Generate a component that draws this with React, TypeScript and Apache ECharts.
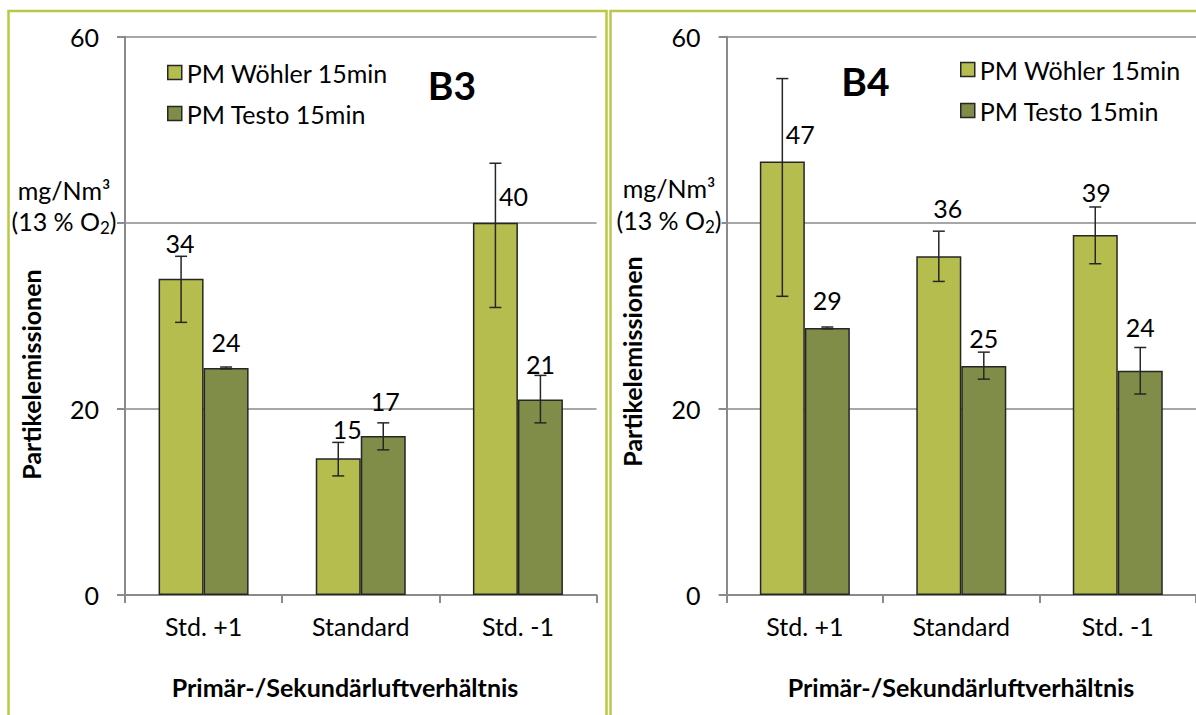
import React, { useEffect, useRef } from "react";
import * as echarts from "echarts";

// Categories: primary/secondary air ratio settings
const categories = ["Std. +1", "Standard", "Std. -1"];
const yTicks = [0, 20, 40, 60];

// B3 – particle emissions, mg/Nm³ at 13 % O2
const b3Woehler = [34.0, 14.7, 40.0];
const b3WoehlerLow = [29.3, 12.8, 30.9];
const b3WoehlerHigh = [36.4, 16.4, 46.4];
const b3Testo = [24.4, 17.1, 21.0];
const b3TestoLow = [24.3, 15.6, 18.5];
const b3TestoHigh = [24.5, 18.5, 23.6];

// B4 – particle emissions, mg/Nm³ at 13 % O2
const b4Woehler = [46.6, 36.4, 38.7];
const b4WoehlerLow = [32.1, 33.7, 35.6];
const b4WoehlerHigh = [55.5, 39.1, 41.7];
const b4Testo = [28.7, 24.6, 24.1];
const b4TestoLow = [28.6, 23.2, 21.6];
const b4TestoHigh = [28.8, 26.1, 26.6];

const seriesNames = ["PM Wöhler 15min", "PM Testo 15min"];

const FONT = "Lato, 'Open Sans', sans-serif";
const FS = 25;
const WOEHLER = "#b5bd4f";
const TESTO = "#7f8d48";
const EDGE = "#262626";
const AXIS = "#8a8a8a";
const FRAME = "#b9c846";
const BAR_W = 45;

// value-label nudges (label centre relative to bar centre / bar top)
const b3WoehlerLabelShift = [[-1, -36], [9, -29], [18, -27]];
const b3TestoLabelShift = [[0, -26], [2, -35], [0, -36]];
const b4WoehlerLabelShift = [[18, -27], [9, -48], [1, -43]];
const b4TestoLabelShift = [[0, -28], [0, -28], [0, -44]];

function barSeries(
  name: string,
  color: string,
  values: number[],
  shifts: number[][],
  axis: number
) {
  return {
    type: "bar",
    name,
    xAxisIndex: axis,
    yAxisIndex: axis,
    barWidth: BAR_W,
    barGap: "0%",
    itemStyle: { color, borderColor: EDGE, borderWidth: 1.5 },
    label: {
      show: true,
      position: "top",
      distance: 0,
      fontFamily: FONT,
      fontSize: FS,
      lineHeight: 24,
      color: "#000",
      formatter: (p: any) => String(Math.round(p.value)),
    },
    data: values.map((v, i) => ({
      value: v,
      label: { offset: [shifts[i][0], shifts[i][1] + 12] },
    })),
    z: 2,
  };
}

function errorSeries(
  name: string,
  low: number[],
  high: number[],
  shift: number,
  axis: number
) {
  return {
    type: "custom",
    name,
    xAxisIndex: axis,
    yAxisIndex: axis,
    encode: { x: 0, y: [1, 2] },
    data: low.map((lo, i) => [i, lo, high[i]]),
    z: 5,
    renderItem: (params: any, api: any) => {
      const i = api.value(0);
      const pLo = api.coord([i, api.value(1)]);
      const pHi = api.coord([i, api.value(2)]);
      const cx = pLo[0] + shift;
      const cap = 6;
      const style = { stroke: EDGE, lineWidth: 1.5 };
      return {
        type: "group",
        children: [
          { type: "line", shape: { x1: cx, y1: pHi[1], x2: cx, y2: pLo[1] }, style },
          { type: "line", shape: { x1: cx - cap, y1: pHi[1], x2: cx + cap, y2: pHi[1] }, style },
          { type: "line", shape: { x1: cx - cap, y1: pLo[1], x2: cx + cap, y2: pLo[1] }, style },
        ],
      };
    },
  };
}

function xAxis(grid: number) {
  return {
    type: "category",
    gridIndex: grid,
    data: categories,
    axisLine: { show: true, lineStyle: { color: AXIS, width: 2 } },
    axisTick: { show: true, length: 8, lineStyle: { color: AXIS, width: 2 } },
    axisLabel: { fontFamily: FONT, fontSize: FS, color: "#000", margin: 18 },
  };
}

function yAxis(grid: number) {
  return {
    type: "value",
    gridIndex: grid,
    min: yTicks[0],
    max: yTicks[yTicks.length - 1],
    interval: yTicks[1] - yTicks[0],
    axisLine: { show: true, lineStyle: { color: AXIS, width: 2 } },
    axisTick: { show: true, length: 8, lineStyle: { color: AXIS, width: 2 } },
    splitLine: { show: true, lineStyle: { color: AXIS, width: 1.5 } },
    axisLabel: {
      fontFamily: FONT,
      fontSize: FS,
      color: "#000",
      margin: 26,
      // the 40 position carries the unit label instead
      formatter: (v: number) => (v === 40 ? "" : String(v)),
    },
  };
}

function legend(left: number, top: number) {
  return {
    data: seriesNames,
    orient: "vertical",
    left,
    top,
    icon: "rect",
    itemWidth: 14,
    itemHeight: 14,
    itemGap: 16,
    selectedMode: false,
    itemStyle: { borderColor: EDGE, borderWidth: 1.5 },
    textStyle: { fontFamily: FONT, fontSize: FS, lineHeight: 24, color: "#000" },
  };
}

function txt(
  x: number,
  y: number,
  text: string,
  size: number,
  bold = false,
  rotation = 0
) {
  return {
    type: "text",
    x,
    y,
    rotation,
    style: {
      text,
      fontFamily: FONT,
      fontSize: size,
      fontWeight: bold ? "bold" : "normal",
      fill: "#000",
      align: "center",
      verticalAlign: "middle",
    },
    z: 10,
  };
}

function unitLabel(x: number, y1: number, y2: number) {
  return [
    txt(x, y1, "mg/Nm³", FS),
    {
      type: "text",
      x,
      y: y2,
      style: {
        text: "(13 % O{s|2})",
        fontFamily: FONT,
        fontSize: FS,
        lineHeight: 30,
        fill: "#000",
        align: "center",
        verticalAlign: "middle",
        backgroundColor: "#fff",
        rich: {
          s: {
            fontFamily: FONT,
            fontSize: 17,
            lineHeight: 16,
            verticalAlign: "bottom",
            fill: "#000",
          },
        },
      },
      z: 10,
    },
  ];
}

export default function App() {
  const ref = useRef<HTMLDivElement>(null);

  useEffect(() => {
    if (!ref.current) return;
    const chart = echarts.init(ref.current, undefined, { renderer: "svg" });

    chart.setOption({
      animation: false,
      backgroundColor: "#fff",
      grid: [
        { left: 125, top: 36.7, width: 471.5, height: 558.3 },
        { left: 726.6, top: 36.7, width: 473.5, height: 558.3 },
      ],
      xAxis: [xAxis(0), xAxis(1)],
      yAxis: [yAxis(0), yAxis(1)],
      legend: [legend(162, 55), legend(955, 52)],
      series: [
        barSeries(seriesNames[0], WOEHLER, b3Woehler, b3WoehlerLabelShift, 0),
        barSeries(seriesNames[1], TESTO, b3Testo, b3TestoLabelShift, 0),
        errorSeries("err-b3-w", b3WoehlerLow, b3WoehlerHigh, -BAR_W / 2, 0),
        errorSeries("err-b3-t", b3TestoLow, b3TestoHigh, BAR_W / 2, 0),
        barSeries(seriesNames[0], WOEHLER, b4Woehler, b4WoehlerLabelShift, 1),
        barSeries(seriesNames[1], TESTO, b4Testo, b4TestoLabelShift, 1),
        errorSeries("err-b4-w", b4WoehlerLow, b4WoehlerHigh, -BAR_W / 2, 1),
        errorSeries("err-b4-t", b4TestoLow, b4TestoHigh, BAR_W / 2, 1),
      ],
      graphic: [
        // panel frames
        {
          type: "rect",
          shape: { x: 8.5, y: 11, width: 598, height: 740 },
          style: { fill: "none", stroke: FRAME, lineWidth: 2.5 },
          z: 0,
        },
        {
          type: "rect",
          shape: { x: 610.5, y: 11, width: 620, height: 740 },
          style: { fill: "none", stroke: FRAME, lineWidth: 2.5 },
          z: 0,
        },
        txt(452, 85, "B3", 39, true),
        txt(865.5, 81, "B4", 39, true),
        txt(31, 374.5, "Partikelemissionen", FS, true, Math.PI / 2),
        txt(631.5, 361.5, "Partikelemissionen", FS, true, Math.PI / 2),
        txt(345, 687, "Primär-/Sekundärluftverhältnis", FS, true),
        txt(961, 687, "Primär-/Sekundärluftverhältnis", FS, true),
        ...unitLabel(64, 190, 221),
        ...unitLabel(669, 188, 220),
      ],
    });

    return () => chart.dispose();
  }, []);

  return (
    <div
      ref={ref}
      style={{ position: "absolute", left: 0, top: 0, width: 1196, height: 715, overflow: "hidden" }}
    />
  );
}
